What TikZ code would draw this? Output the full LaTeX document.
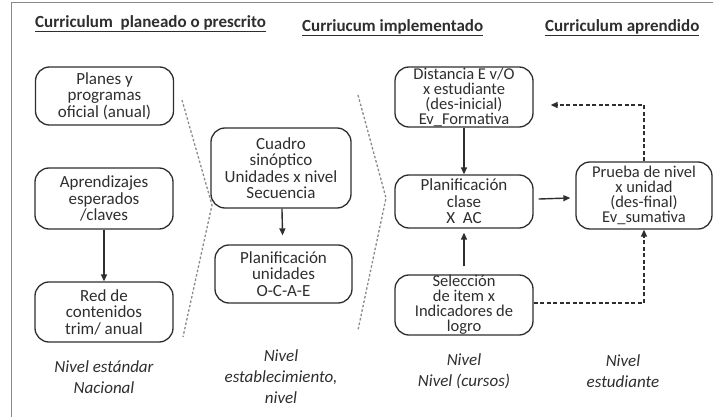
\documentclass[tikz,border=0pt]{standalone}
\usepackage{fontspec}
\setmainfont{Carlito}
\usetikzlibrary{arrows.meta}
\definecolor{ink}{HTML}{2E2E2E}
\definecolor{frame}{HTML}{8A8A8A}
\begin{document}
\begin{tikzpicture}[x=1pt,y=-1pt,
  box/.style={draw=ink, line width=1.3pt, rounded corners=14pt, align=center,
    text=ink, font=\fontsize{17}{16.5}\selectfont, inner sep=0pt},
  box4/.style={box, font=\fontsize{16.5}{15}\selectfont},
  head/.style={text=ink, font=\bfseries\fontsize{17}{19}\selectfont, inner sep=0pt},
  lvl/.style={text=ink, font=\itshape\fontsize{17}{21}\selectfont, align=center, inner sep=0pt},
  arr/.style={draw=ink, line width=1.4pt, -{Triangle[length=7pt,width=6pt]}},
  darr/.style={draw=ink, line width=1.4pt, dash pattern=on 4pt off 2.5pt, -{Triangle[length=7pt,width=6pt]}},
  chev/.style={draw=frame, line width=1.3pt, dash pattern=on 2.5pt off 2pt}]
\useasboundingbox (0,0) rectangle (716,417);
\draw[frame, line width=1pt] (11,417) -- (11,3) -- (713,3);

% headers
\node[head, anchor=west] (h1) at (35,24) {\underline{Curriculum\ \ planeado o prescrito}};
\node[head, anchor=west] (h2) at (302,28) {\underline{Curriucum implementado}};
\node[head, anchor=west] (h3) at (545,28) {\underline{Curriculum aprendido}};

% chevrons
\coordinate (c1a) at (182,100); \coordinate (c1b) at (212,205); \coordinate (c1c) at (183,337);
\coordinate (c2a) at (358,95); \coordinate (c2b) at (386,198); \coordinate (c2c) at (358,330);
\draw[chev] (c1a) -- (c1b) -- (c1c);
\draw[chev] (c2a) -- (c2b) -- (c2c);

% left column
\node[box, minimum width=138pt, minimum height=58pt] (planes) at (104.5,96) {Planes y\\programas\\oficial (anual)};
\node[box, minimum width=138pt, minimum height=61pt] (apr) at (104,198.5) {Aprendizajes\\esperados\\/claves};
\node[box, minimum width=138pt, minimum height=60pt] (red) at (104,312) {Red de\\contenidos\\trim/ anual};
\draw[arr] (apr) -- (red);

% middle column
\node[box, minimum width=140pt, minimum height=80pt] (cuadro) at (281,168) {Cuadro\\sinóptico\\Unidades x nivel\\Secuencia};
\node[box, minimum width=137pt, minimum height=58pt] (punid) at (283.5,274) {Planificación\\unidades\\O-C-A-E};
\draw[arr, shorten >=9pt] (cuadro) -- (punid);

% implemented column
\node[box4, minimum width=138pt, minimum height=60pt] (dist) at (464,97) {Distancia E v/O\\x estudiante\\(des-inicial)\\Ev\_Formativa};
\node[box, minimum width=138pt, minimum height=53pt] (pclase) at (464,201.5) {Planificación\\clase\\X\ \ AC};
\node[box4, minimum width=138pt, minimum height=60pt] (sel) at (464,305) {Selección\\de item x\\Indicadores de\\logro};
\draw[arr] (dist) -- (pclase);
\draw[arr, shorten <=8pt, shorten >=4pt] (sel) -- (pclase);

% learned column
\node[box4, minimum width=136pt, minimum height=67pt] (prueba) at (644,195.5) {Prueba de nivel\\x unidad\\(des-final)\\Ev\_sumativa};
\draw[arr, shorten <=5pt, shorten >=5pt] (pclase) -- (prueba);
\coordinate (tl) at (644,105);
\coordinate (br) at (644,303);
\draw[darr, shorten >=17pt] (prueba.north) -- (tl) -- (dist.east |- tl);
\draw[darr] (sel.east |- br) -- (br) -- (prueba.south);

% levels
\node[lvl] (l1) at (104,377) {Nivel estándar\\Nacional};
\node[lvl] (l2) at (281,377) {Nivel\\establecimiento,\\nivel};
\node[lvl] (l3) at (464,371) {Nivel\\Nivel (cursos)};
\node[lvl] (l4) at (623,371) {Nivel\\estudiante};
\end{tikzpicture}
\end{document}
